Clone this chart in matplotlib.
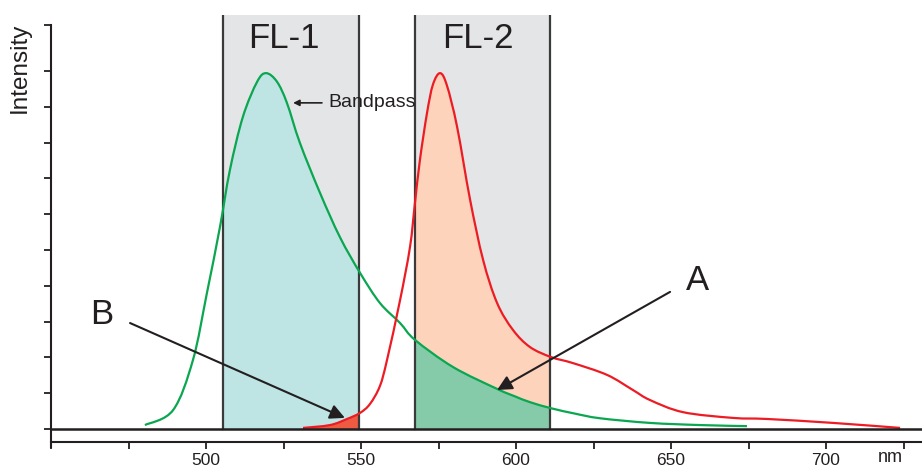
import matplotlib
matplotlib.use("Agg")
import matplotlib.pyplot as plt
from matplotlib.patches import Rectangle, PathPatch
from matplotlib.path import Path
import numpy as np

plt.rcParams['font.family'] = ['Liberation Sans', 'DejaVu Sans']

## donnees (nm, intensite relative)
green_nm = [480.3, 489.4, 495.8, 500.3, 504.5, 507.7, 511.9, 516.5, 519.4, 522.9,
            526.1, 530.3, 536.8, 543.2, 549.7, 556.1, 562.6, 567.4, 579.7, 593.9,
            599.7, 604.5, 611.3, 619.0, 627.1, 643.2, 659.4, 674.5]
green_int = [0.011, 0.053, 0.193, 0.380, 0.564, 0.723, 0.872, 0.970, 0.994, 0.970,
             0.911, 0.799, 0.659, 0.536, 0.436, 0.352, 0.296, 0.249, 0.173, 0.112,
             0.091, 0.075, 0.058, 0.043, 0.030, 0.017, 0.011, 0.008]

red_nm = [531.3, 540.0, 545.5, 549.7, 552.9, 556.1, 558.4, 562.6, 565.8, 567.4,
          569.0, 571.3, 573.2, 575.5, 577.7, 581.0, 585.2, 589.4, 593.9, 599.0,
          604.5, 611.3, 618.4, 629.4, 637.7, 643.2, 653.9, 670.0, 681.0, 702.3, 723.9]
red_int = [0.003, 0.011, 0.028, 0.045, 0.070, 0.120, 0.193, 0.360, 0.508, 0.631,
           0.751, 0.883, 0.962, 0.994, 0.960, 0.844, 0.640, 0.472, 0.352, 0.277,
           0.229, 0.201, 0.184, 0.151, 0.109, 0.081, 0.047, 0.031, 0.028, 0.017, 0.003]

fl1 = (505.5, 549.5)
fl2 = (567.5, 611.0)
band_labels = ["FL-1", "FL-2"]

xticks = [450, 475, 500, 525, 550, 575, 600, 625, 650, 675, 700, 725]
xlabels = ["", "", "500", "", "550", "", "600", "", "650", "", "700", ""]

## couleurs
c_axe = '#231f20'
c_gris = '#e4e5e7'
c_cyan = '#bee4e4'
c_peche = '#fdd3bb'
c_vert_fill = '#86cba9'
c_rouge_fill = '#ef5a43'
c_vert = '#0aa650'
c_rouge = '#ed1c24'


#trace lisse (Catmull-Rom -> Bezier) passant par les points lus
def lisse(x, y, ferme=False):
    p = np.column_stack([x, y])
    pts = np.vstack([p[0], p, p[-1]])
    verts = [p[0]]
    codes = [Path.MOVETO]
    for i in range(1, len(pts) - 2):
        p0, p1, p2, p3 = pts[i-1], pts[i], pts[i+1], pts[i+2]
        verts += [p1 + (p2 - p0) / 6, p2 - (p3 - p1) / 6, p2]
        codes += [Path.CURVE4] * 3
    if ferme:
        verts += [(x[-1], 0), (x[0], 0), (x[0], 0)]
        codes += [Path.LINETO, Path.LINETO, Path.CLOSEPOLY]
    return Path(verts, codes)


fig = plt.figure(figsize=(9.22, 4.70), dpi=100)
ax = fig.add_axes([51/922, 1-447/470, 871/922, (447-15)/470])
ymin, ymax = -18/358, 414/358
ax.set_xlim(450, 450 + 871/3.1)
ax.set_ylim(ymin, ymax)

#bandes grises + bords
for (a, b) in [fl1, fl2]:
    ax.add_patch(Rectangle((a, 0), b-a, ymax, color=c_gris, zorder=0, lw=0))
    ax.plot([a, a], [0, ymax], color='#3a3a3a', lw=1.6, zorder=4)
    ax.plot([b, b], [0, ymax], color='#3a3a3a', lw=1.6, zorder=4)

#remplissages limites aux bandes
def remplir(x, y, band, couleur, z):
    patch = PathPatch(lisse(x, y, ferme=True), facecolor=couleur, lw=0, zorder=z)
    ax.add_patch(patch)
    clip = Rectangle((band[0], 0), band[1]-band[0], ymax, transform=ax.transData)
    patch.set_clip_path(clip)

remplir(green_nm, green_int, fl1, c_cyan, 1)
remplir(red_nm, red_int, fl1, c_rouge_fill, 2)
remplir(red_nm, red_int, fl2, c_peche, 1)
remplir(green_nm, green_int, fl2, c_vert_fill, 2)

#courbes
ax.add_patch(PathPatch(lisse(green_nm, green_int), facecolor='none', edgecolor=c_vert, lw=1.6, zorder=5))
ax.add_patch(PathPatch(lisse(red_nm, red_int), facecolor='none', edgecolor=c_rouge, lw=1.6, zorder=5))

#ligne de base
ax.axhline(0, color=c_axe, lw=1.8, zorder=6)

#axes
for s in ['top', 'right']:
    ax.spines[s].set_visible(False)
ax.spines['left'].set_color(c_axe)
ax.spines['left'].set_linewidth(1.5)
ax.spines['left'].set_bounds(ymin, 404/358)
ax.spines['bottom'].set_position(('data', -12.5/358))
ax.spines['bottom'].set_color(c_axe)
ax.spines['bottom'].set_linewidth(1.5)

ax.set_yticks(list(np.arange(0, 1.01, 0.1)) + [404/358])
ax.set_yticklabels([])
ax.tick_params(axis='y', direction='out', length=5, width=1.3, color=c_axe)
ax.set_xticks(xticks)
ax.set_xticklabels(xlabels, fontsize=12.5, color=c_axe)
ax.tick_params(axis='x', direction='out', length=5, width=1.3, color=c_axe, pad=3)

#textes
ax.text(525.2, 1.092, band_labels[0], fontsize=25, ha='center', va='center', color=c_axe, zorder=7)
ax.text(587.7, 1.092, band_labels[1], fontsize=25, ha='center', va='center', color=c_axe, zorder=7)
ax.text(658.7, 0.416, "A", fontsize=25, ha='center', va='center', color=c_axe, zorder=7)
ax.text(466.5, 0.321, "B", fontsize=25, ha='center', va='center', color=c_axe, zorder=7)
ax.text(539.5, 0.911, "Bandpass", fontsize=14, ha='left', va='center', color=c_axe, zorder=7)

#fleches
ax.annotate("", xy=(593.9, 0.109), xytext=(649.7, 0.383),
            arrowprops=dict(arrowstyle='-|>', color=c_axe, lw=1.5, mutation_scale=22,
                            shrinkA=0, shrinkB=0), zorder=8)
ax.annotate("", xy=(544.8, 0.031), xytext=(475.5, 0.296),
            arrowprops=dict(arrowstyle='-|>', color=c_axe, lw=1.5, mutation_scale=22,
                            shrinkA=0, shrinkB=0), zorder=8)
ax.annotate("", xy=(528.1, 0.911), xytext=(537.4, 0.911),
            arrowprops=dict(arrowstyle='-|>', color=c_axe, lw=1.2, mutation_scale=9,
                            shrinkA=0, shrinkB=0), zorder=8)

fig.text(20/922, 1-68/470, "Intensity", rotation=90, fontsize=17.5, ha='center', va='center', color=c_axe)
fig.text(890/922, 1-458/470, "nm", fontsize=13, ha='center', va='center', color=c_axe)

fig.savefig("out.png", dpi=100)
